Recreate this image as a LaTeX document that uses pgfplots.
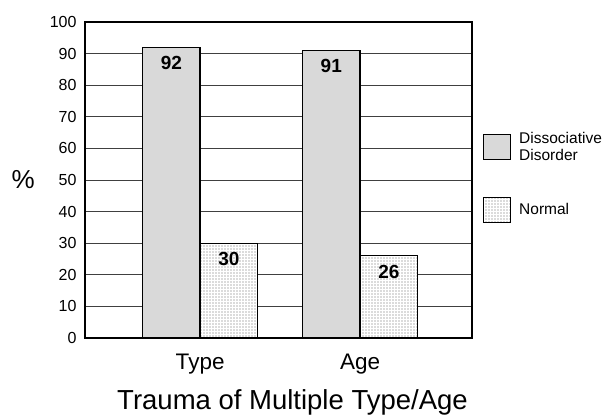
\documentclass[border=0pt]{standalone}
\usepackage{pgfplots}
\pgfplotsset{compat=1.18}
\usepackage{fontspec}
\setmainfont{Liberation Sans}
\usetikzlibrary{patterns.meta}
\definecolor{bargray}{RGB}{217,217,217}
\begin{document}
\begin{tikzpicture}
\begin{axis}[
  name=ax, at={(0,0)}, anchor=south west,
  scale only axis, width=387pt, height=316pt,
  ymin=0, ymax=100, ytick={0,10,...,100},
  xmin=-0.72, xmax=1.70,
  xtick={0,1}, xticklabels={Type,Age},
  ybar=0pt, bar width=0.36,
  ymajorgrids, major grid style={black!75, line width=0.8pt},
  axis line style={line width=1.6pt},
  major tick length=0pt,
  /pgf/number format/assume math mode=true,
  yticklabel style={font=\fontsize{16}{18}\selectfont, xshift=-5pt},
  xticklabel style={font=\fontsize{22.5}{26}\selectfont, yshift=-12pt},
  xlabel={Trauma of Multiple Type/Age},
  xlabel style={font=\fontsize{27.5}{30}\selectfont, yshift=-9pt, xshift=14pt},
  ylabel={\%},
  ylabel style={font=\fontsize{26}{28}\selectfont, rotate=-90, at={(axis description cs:-0.16,0.5)}, anchor=center},
  nodes near coords,
  every node near coord/.append style={anchor=north, yshift=-5pt, font=\fontsize{19}{21}\selectfont\bfseries, black},
  legend image code/.code={\draw[#1] (0pt,-12.5pt) rectangle (27pt,12.5pt);},
  legend style={at={(1.02,0.665)}, anchor=north west, draw=none, fill=none,
    font=\fontsize{15.5}{17}\selectfont, row sep=33pt,
    cells={anchor=west, align=left},
    /tikz/every odd column/.append style={column sep=6pt}},
]
\addplot[draw=black, line width=1.3pt, fill=bargray] coordinates {(0,92) (1,91)};
\addplot[draw=black, line width=1.3pt, fill=white, postaction={pattern={Dots[radius=0.55pt, distance=3pt]}, pattern color=black!60}] coordinates {(0,30) (1,26)};
\legend{Dissociative\\Disorder, Normal}
\end{axis}
\pgfresetboundingbox
\path (ax.south west) ++(-85pt,-82pt) rectangle ++(603pt,420pt);
\end{tikzpicture}
\end{document}
